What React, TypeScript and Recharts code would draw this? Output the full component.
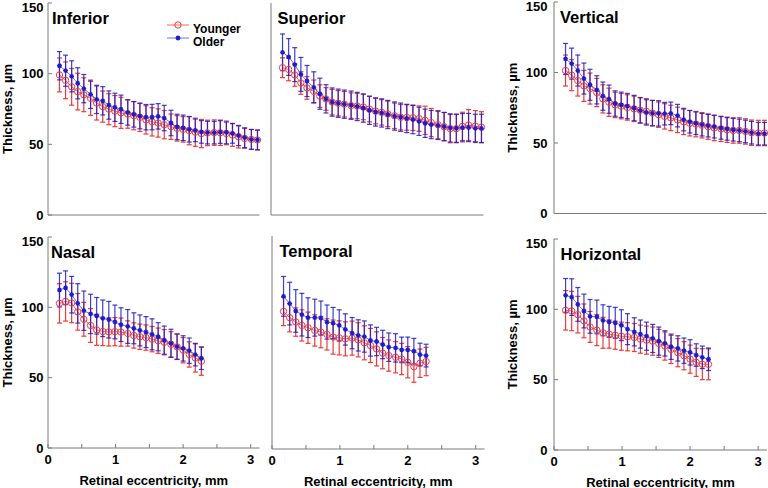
import { ComposedChart, ErrorBar, Legend, Line, XAxis, YAxis } from "recharts";

// eccentricity sample positions (mm)
const TOP_X = [
  0.17, 0.26, 0.35, 0.44, 0.53, 0.63, 0.72, 0.81, 0.9, 0.99, 1.08, 1.18, 1.27,
  1.36, 1.45, 1.54, 1.63, 1.72, 1.82, 1.91, 2.0, 2.09, 2.18, 2.27, 2.36, 2.46,
  2.55, 2.64, 2.73, 2.82, 2.91, 3.01, 3.1,
];
const BOTTOM_X = [
  0.17, 0.26, 0.35, 0.44, 0.53, 0.63, 0.72, 0.81, 0.9, 0.99, 1.08, 1.18, 1.27,
  1.36, 1.45, 1.54, 1.63, 1.72, 1.82, 1.91, 2.0, 2.09, 2.18, 2.27,
];

const INF_YOUNG = [
  99.1, 95.3, 90.7, 87.3, 85.1, 82.5, 79.2, 76.7, 74.9, 73.5, 72.3, 71.4, 70.3,
  69.1, 67.3, 65.9, 65.1, 63.9, 62.5, 61.3, 60.6, 59.7, 58.6, 57.6, 58.1, 58.3,
  58.2, 57.7, 56.6, 55.4, 54.2, 53.5, 53.1,
];
const INF_YOUNG_SD = [
  12, 13, 13, 13, 12, 12, 12, 11, 11, 11, 11, 10, 10, 10, 10, 10, 10, 10, 9, 9,
  9, 10, 10, 10, 9, 9, 9, 8, 8, 8, 7, 7, 7,
];
const INF_OLD = [
  105.6, 102.1, 98.1, 93.2, 89.4, 85.4, 81.8, 80.8, 77.8, 76.2, 74.8, 72.6,
  71.2, 70.0, 69.2, 69.3, 69.8, 68.6, 65.1, 62.3, 61.7, 60.6, 59.9, 58.8, 58.3,
  58.3, 58.7, 58.4, 57.8, 56.1, 54.7, 53.5, 53.1,
];
const INF_OLD_SD = [
  10, 11, 11, 11, 10, 10, 10, 10, 10, 10, 10, 9, 9, 9, 9, 9, 9, 9, 9, 9, 9, 9,
  8, 8, 8, 8, 8, 8, 7, 7, 7, 7, 7,
];

const SUP_YOUNG = [
  104.2, 103.0, 99.1, 93.4, 89.9, 87.5, 84.1, 82.1, 79.9, 79.1, 78.4, 77.4,
  77.1, 76.4, 74.9, 73.5, 72.6, 71.5, 70.2, 69.2, 69.0, 68.8, 68.2, 67.0, 65.4,
  63.9, 62.5, 61.1, 61.1, 62.7, 63.6, 62.9, 62.1,
];
const SUP_YOUNG_SD = [
  7, 8, 8, 8, 8, 8, 8, 8, 9, 9, 9, 9, 9, 9, 9, 9, 9, 9, 9, 9, 9, 9, 9, 10, 10,
  10, 10, 10, 10, 10, 11, 11, 11,
];
const SUP_OLD = [
  115.1, 111.8, 106.4, 99.5, 94.8, 90.3, 85.8, 82.2, 79.9, 79.1, 78.4, 77.7,
  76.8, 75.7, 74.1, 72.9, 72.2, 71.1, 70.0, 69.2, 68.3, 67.5, 66.3, 64.9, 64.0,
  63.4, 62.6, 61.6, 61.4, 61.8, 61.9, 61.3, 61.3,
];
const SUP_OLD_SD = [
  13, 13, 12, 12, 11, 11, 11, 10, 10, 10, 10, 10, 10, 10, 10, 10, 10, 10, 10,
  10, 10, 10, 10, 10, 10, 10, 10, 10, 10, 10, 10, 10, 10,
];

const VER_YOUNG = [
  101.4, 98.1, 94.3, 90.5, 88.6, 85.8, 81.3, 78.9, 77.0, 76.1, 75.2, 74.2, 73.3,
  72.5, 71.2, 70.1, 68.9, 67.8, 66.4, 65.0, 64.0, 63.4, 62.6, 61.6, 60.7, 60.0,
  59.4, 58.9, 58.9, 58.2, 57.3, 57.1, 57.1,
];
const VER_YOUNG_SD = [
  11, 11, 11, 11, 11, 10, 10, 10, 9, 9, 9, 9, 9, 9, 9, 9, 9, 9, 9, 9, 9, 9, 9,
  9, 9, 9, 9, 9, 9, 9, 9, 9, 9,
];
const VER_OLD = [
  109.6, 106.3, 101.4, 95.7, 91.3, 87.7, 83.2, 81.1, 78.0, 77.1, 76.2, 74.8,
  73.1, 71.7, 71.2, 71.0, 70.8, 71.0, 69.4, 66.6, 65.1, 64.0, 63.0, 62.3, 61.6,
  60.7, 60.0, 59.4, 58.9, 58.2, 57.3, 56.6, 56.6,
];
const VER_OLD_SD = [
  11, 11, 11, 11, 11, 10, 10, 10, 9, 9, 9, 9, 9, 9, 9, 9, 8, 8, 8, 8, 8, 8, 8,
  8, 8, 8, 8, 8, 8, 8, 8, 8, 8,
];

const NAS_YOUNG = [
  102.8, 104.2, 103.1, 96.8, 91.5, 87.1, 84.0, 82.8, 82.5, 82.7, 82.4, 81.4,
  80.0, 79.1, 78.5, 77.4, 76.3, 75.2, 73.7, 71.9, 69.5, 66.5, 64.0, 61.7,
];
const NAS_YOUNG_SD = [
  14, 14, 14, 13, 12, 12, 11, 10, 10, 10, 10, 9, 9, 9, 9, 9, 9, 9, 9, 9, 9, 9,
  10, 10,
];
const NAS_OLD = [
  112.3, 113.9, 109.0, 102.8, 97.6, 95.3, 94.0, 92.2, 91.2, 89.6, 87.7, 86.4,
  85.1, 83.6, 82.4, 80.8, 79.1, 76.7, 74.4, 72.1, 70.8, 69.2, 66.4, 63.8,
];
const NAS_OLD_SD = [
  12, 12, 13, 14, 14, 14, 13, 13, 13, 12, 12, 12, 11, 11, 11, 11, 10, 10, 10, 9,
  9, 9, 8, 8,
];

const TEM_YOUNG = [
  96.9, 92.5, 89.4, 87.0, 85.4, 83.5, 82.3, 80.7, 78.8, 78.3, 77.6, 78.1, 76.9,
  74.8, 72.9, 70.5, 67.5, 65.8, 64.6, 63.4, 61.1, 58.0, 60.4, 61.6,
];
const TEM_YOUNG_SD = [
  10, 10, 10, 11, 11, 11, 11, 11, 12, 12, 12, 12, 12, 12, 12, 12, 11, 11, 11,
  11, 11, 11, 10, 10,
];
const TEM_OLD = [
  107.5, 102.4, 97.2, 94.6, 92.5, 92.5, 92.2, 89.4, 88.7, 87.0, 84.2, 81.6,
  80.0, 79.2, 76.4, 75.7, 73.6, 71.7, 71.2, 69.8, 69.8, 68.9, 66.5, 65.8,
];
const TEM_OLD_SD = [
  14, 15, 15, 15, 14, 13, 12, 12, 11, 11, 11, 11, 11, 11, 11, 10, 10, 10, 10, 9,
  9, 9, 8, 8,
];

const HOR_YOUNG = [
  99.3, 98.8, 96.2, 91.8, 87.5, 85.2, 83.3, 82.4, 81.6, 80.9, 80.5, 80.0, 78.8,
  78.1, 77.4, 75.8, 73.9, 71.5, 69.2, 67.0, 64.6, 62.3, 61.0, 60.9,
];
const HOR_YOUNG_SD = [
  14, 14, 13, 12, 11, 11, 11, 10, 10, 10, 10, 10, 10, 10, 10, 10, 10, 10, 10,
  10, 10, 10, 11, 11,
];
const HOR_OLD = [
  109.9, 108.7, 103.5, 98.8, 95.0, 94.6, 92.2, 91.1, 90.4, 88.7, 85.9, 84.0,
  82.4, 80.9, 79.3, 77.4, 75.8, 73.4, 72.2, 70.6, 69.4, 67.5, 65.9, 64.5,
];
const HOR_OLD_SD = [
  12, 13, 12, 12, 12, 12, 11, 11, 11, 11, 11, 10, 10, 10, 10, 10, 9, 9, 9, 9,
  9, 8, 8, 8,
];

const SERIES_ORDER = ["Younger", "Older"];
const X_TICKS = [0, 0.5, 1, 1.5, 2, 2.5, 3];
const Y_TICKS = [0, 50, 100, 150];
const X_MAX = 3.13;

const RED = "#ee3a3a";
const RED_LINE = "#ff6262";
const BLUE = "#1c1cc8";
const BLUE_LINE = "#6e6eff";
const FRAME = "#7a7a7a";
const FONT = "Arial, 'Liberation Sans', sans-serif";

function buildRows(
  xs: number[],
  young: number[],
  youngSd: number[],
  old: number[],
  oldSd: number[],
) {
  return xs.map((x, i) => ({
    x,
    young: young[i],
    youngSd: youngSd[i],
    old: old[i],
    oldSd: oldSd[i],
  }));
}

type Rect = { l: number; r: number; t: number; b: number };

const PANELS = [
  {
    title: "Inferior",
    rows: buildRows(TOP_X, INF_YOUNG, INF_YOUNG_SD, INF_OLD, INF_OLD_SD),
    rect: { l: 47.5, r: 259, t: 3, b: 215 },
    titleDx: 4.5,
    yLabels: true,
    tickGap: 8.5,
    titleOffset: 19.5,
    xLabels: false,
    legend: true,
  },
  {
    title: "Superior",
    rows: buildRows(TOP_X, SUP_YOUNG, SUP_YOUNG_SD, SUP_OLD, SUP_OLD_SD),
    rect: { l: 270.5, r: 483, t: 3, b: 215 },
    titleDx: 7,
    yLabels: false,
    tickGap: 8.5,
    titleOffset: 19.5,
    xLabels: false,
    legend: false,
  },
  {
    title: "Vertical",
    rows: buildRows(TOP_X, VER_YOUNG, VER_YOUNG_SD, VER_OLD, VER_OLD_SD),
    rect: { l: 553.5, r: 766, t: 2, b: 213.5 },
    titleDx: 6.5,
    yLabels: true,
    tickGap: 10.5,
    titleOffset: 18,
    xLabels: false,
    legend: false,
  },
  {
    title: "Nasal",
    rows: buildRows(BOTTOM_X, NAS_YOUNG, NAS_YOUNG_SD, NAS_OLD, NAS_OLD_SD),
    rect: { l: 47.5, r: 259, t: 237, b: 448 },
    titleDx: 3.5,
    yLabels: true,
    tickGap: 8.5,
    titleOffset: 19.5,
    xLabels: true,
    legend: false,
  },
  {
    title: "Temporal",
    rows: buildRows(BOTTOM_X, TEM_YOUNG, TEM_YOUNG_SD, TEM_OLD, TEM_OLD_SD),
    rect: { l: 271.5, r: 484, t: 236, b: 449 },
    titleDx: 8,
    yLabels: false,
    tickGap: 8.5,
    titleOffset: 19.5,
    xLabels: true,
    legend: false,
  },
  {
    title: "Horizontal",
    rows: buildRows(BOTTOM_X, HOR_YOUNG, HOR_YOUNG_SD, HOR_OLD, HOR_OLD_SD),
    rect: { l: 554, r: 767, t: 239, b: 450 },
    titleDx: 6.5,
    yLabels: true,
    tickGap: 10.5,
    titleOffset: 18,
    xLabels: true,
    legend: false,
  },
];

function CircleDot(props: any) {
  const { cx, cy } = props;
  if (cx == null || cy == null) return null;
  return <circle cx={cx} cy={cy} r={3.2} fill="none" stroke={RED} strokeWidth={1} />;
}

function StarDot(props: any) {
  const { cx, cy } = props;
  if (cx == null || cy == null) return null;
  const d = `M${cx - 2.4},${cy}h4.8M${cx},${cy - 2.4}v4.8M${cx - 1.7},${cy - 1.7}l3.4,3.4M${cx - 1.7},${cy + 1.7}l3.4,-3.4`;
  return <path d={d} stroke={BLUE} strokeWidth={1.3} fill="none" />;
}

function LegendBox({ payload }: any) {
  const items = [...(payload || [])].sort(
    (a: any, b: any) => SERIES_ORDER.indexOf(a.value) - SERIES_ORDER.indexOf(b.value),
  );
  return (
    <svg width={80} height={32} style={{ display: "block" }}>
      {items.map((entry: any, i: number) => {
        const cy = 5 + 13 * i;
        return (
          <g key={entry.value}>
            <line x1={0} x2={22} y1={cy} y2={cy} stroke={entry.color} strokeWidth={1} />
            {entry.value === "Younger" ? (
              <CircleDot cx={11} cy={cy} />
            ) : (
              <StarDot cx={11} cy={cy} />
            )}
            <text x={26} y={cy + 7.5} fontSize={12} fontWeight={700} fill="#000">
              {entry.value}
            </text>
          </g>
        );
      })}
    </svg>
  );
}

const ML = 60;
const MT = 4;
const MR = 4;
const MB = 45;

function Panel(p: (typeof PANELS)[number]) {
  const rect: Rect = p.rect;
  const w = rect.r - rect.l;
  const h = rect.b - rect.t;
  const left = rect.l - ML;
  const top = rect.t - MT;
  const tickStyle = { fill: "#000", fontSize: 13, fontWeight: 700 };
  return (
    <div style={{ position: "absolute", left, top }}>
      <ComposedChart
        width={w + ML + MR}
        height={h + MT + MB}
        data={p.rows}
        margin={{ top: MT, right: MR, bottom: 0, left: 0 }}
      >
        <XAxis
          xAxisId="b"
          type="number"
          dataKey="x"
          domain={[0, X_MAX]}
          ticks={X_TICKS}
          orientation="bottom"
          height={MB}
          stroke={FRAME}
          tickSize={-4}
          tickMargin={11}
          tick={p.xLabels ? tickStyle : false}
          tickFormatter={(v) => (Number.isInteger(v) ? String(v) : "")}
          label={
            p.xLabels
              ? {
                  value: "Retinal eccentricity, mm",
                  position: "insideBottom",
                  offset: 8.5,
                  fill: "#000",
                  fontSize: 13,
                  fontWeight: 700,
                }
              : undefined
          }
        />
        <XAxis
          xAxisId="t"
          type="number"
          dataKey="x"
          domain={[0, X_MAX]}
          ticks={X_TICKS}
          orientation="top"
          height={0}
          stroke={FRAME}
          tickSize={-4}
          tick={false}
        />
        <YAxis
          yAxisId="l"
          type="number"
          domain={[0, 150]}
          ticks={Y_TICKS}
          width={ML}
          stroke={FRAME}
          tickSize={-4}
          tickMargin={p.tickGap}
          tick={p.yLabels ? tickStyle : false}
          label={
            p.yLabels
              ? {
                  value: "Thickness, µm",
                  angle: -90,
                  position: "insideLeft",
                  offset: p.titleOffset,
                  fill: "#000",
                  fontSize: 13,
                  fontWeight: 700,
                  style: { textAnchor: "middle" },
                }
              : undefined
          }
        />
        <YAxis
          yAxisId="r"
          orientation="right"
          type="number"
          domain={[0, 150]}
          ticks={Y_TICKS}
          width={0}
          stroke={FRAME}
          tickSize={-4}
          tick={false}
        />
        <Line
          xAxisId="b"
          yAxisId="l"
          dataKey="young"
          name="Younger"
          stroke={RED_LINE}
          strokeWidth={1}
          dot={<CircleDot />}
          activeDot={false}
          isAnimationActive={false}
        >
          <ErrorBar dataKey="youngSd" direction="y" width={2.5} stroke={RED} strokeWidth={1.2} />
        </Line>
        <Line
          xAxisId="b"
          yAxisId="l"
          dataKey="old"
          name="Older"
          stroke={BLUE_LINE}
          strokeWidth={1}
          dot={<StarDot />}
          activeDot={false}
          isAnimationActive={false}
        >
          <ErrorBar dataKey="oldSd" direction="y" width={2.5} stroke={BLUE} strokeWidth={1.2} strokeOpacity={0.85} />
        </Line>
        {p.legend && (
          <Legend
            content={<LegendBox />}
            layout="vertical"
            align="center"
            verticalAlign="middle"
            wrapperStyle={{ left: 167 - left, top: 20 - top, width: 80 }}
          />
        )}
      </ComposedChart>
    </div>
  );
}

export default function App() {
  return (
    <div
      style={{
        position: "absolute",
        left: 0,
        top: 0,
        width: 768,
        height: 488,
        background: "#fff",
        fontFamily: FONT,
        overflow: "hidden",
      }}
    >
      {PANELS.map((p) => (
        <Panel key={p.title} {...p} />
      ))}
      <svg
        width={768}
        height={488}
        style={{ position: "absolute", left: 0, top: 0, pointerEvents: "none" }}
      >
        {PANELS.map((p) => (
          <text
            key={p.title}
            x={p.rect.l + p.titleDx}
            y={p.rect.t + 21}
            fontSize={16.5}
            fontWeight={700}
            fill="#000"
          >
            {p.title}
          </text>
        ))}
      </svg>
    </div>
  );
}
